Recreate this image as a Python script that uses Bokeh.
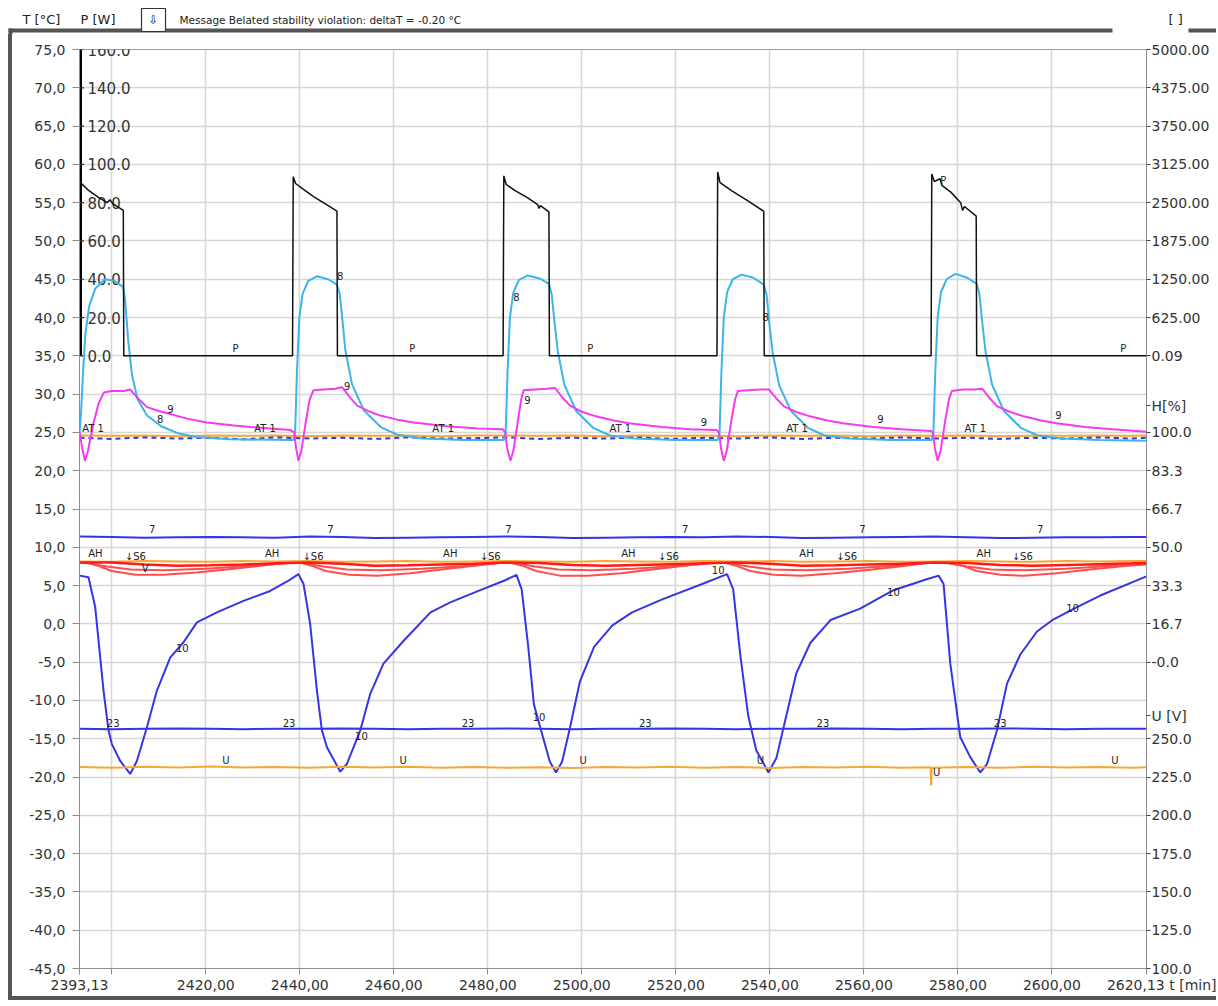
from bokeh.plotting import figure
from bokeh.layouts import column
from bokeh.models import Range1d, LinearAxis, FixedTicker, AllLabels
from bokeh.core.properties import value
from bokeh.embed import file_html
from bokeh.resources import INLINE

FONT = "DejaVu Sans"
NB = "\u00a0"

# ---------------- axis ticks / labels ----------------
t_ticks = [75, 70, 65, 60, 55, 50, 45, 40, 35, 30, 25, 20, 15, 10, 5, 0, -5, -10, -15, -20, -25, -30, -35, -40, -45]
t_labels = ["75,0", "70,0", "65,0", "60,0", "55,0", "50,0", "45,0", "40,0", "35,0", "30,0", "25,0", "20,0",
            "15,0", "10,0", "5,0", "0,0", "-5,0", "-10,0", "-15,0", "-20,0", "-25,0", "-30,0", "-35,0", "-40,0", "-45,0"]
p_ticks = [0, 20, 40, 60, 80, 100, 120, 140, 160]
p_labels = ["0.0", "20.0", "40.0", "60.0", "80.0", "100.0", "120.0", "140.0", "160.0"]
r_ticks = [75, 70, 65, 60, 55, 50, 45, 40, 35, 28.5, 25, 20, 15, 10, 5, 0, -5, -12, -15, -20, -25, -30, -35, -40, -45]
r_labels = ["5000.00", "4375.00", "3750.00", "3125.00", "2500.00", "1875.00", "1250.00", "625.00", "0.09",
            "H[%]", "100.0", "83.3", "66.7", "50.0", "33.3", "16.7", "-0.0",
            "U [V]", "250.0", "225.0", "200.0", "175.0", "150.0", "125.0", "100.0"]
x_ticks = [2393.13, 2400, 2420, 2440, 2460, 2480, 2500, 2520, 2540, 2560, 2580, 2600, 2620.13]
x_labels = ["2393,13", "", "2420,00", "2440,00", "2460,00", "2480,00", "2500,00", "2520,00",
            "2540,00", "2560,00", "2580,00", "2600,00", NB * 7 + "2620,13 t [min]"]

# ---------------- series ----------------
# P [W] (black)
p_points = [(2393.13, 91), (2395.0, 86.5), (2397.0, 83), (2399.0, 80), (2399.6, 81.5), (2400.2, 79.5),
            (2402.45, 76), (2402.55, 0), (2438.45, 0), (2438.52, 46), (2438.6, 93.5), (2439.1, 90),
            (2441.0, 86.5), (2443.0, 83), (2445.0, 80), (2447.9, 75.6), (2448.0, 0), (2483.25, 0),
            (2483.32, 47), (2483.4, 94), (2483.9, 89.5), (2486.0, 86), (2488.5, 82.5), (2490.6, 79),
            (2490.9, 77), (2491.2, 78.5), (2493.0, 75.2), (2493.1, 0), (2528.75, 0), (2528.82, 48),
            (2528.9, 96), (2529.4, 90.5), (2532.0, 86), (2535.0, 81.5), (2538.7, 75.5), (2538.8, 0),
            (2574.3, 0), (2574.38, 48), (2574.45, 95), (2575.0, 91), (2576.2, 92.5), (2576.6, 89),
            (2578.5, 85.5), (2580.6, 80), (2581.0, 76), (2581.4, 78), (2583.9, 73), (2584.0, 0), (2620.13, 0)]

# sensor 8 (cyan) [degC]
s8_points = [(2393.13, 24.6), (2393.5, 28), (2393.9, 33), (2394.4, 38), (2395.2, 41.5), (2396.5, 43.8),
             (2398.5, 45.0), (2400.5, 44.8), (2402.4, 44.0), (2402.8, 42.5), (2403.5, 37), (2404.3, 32.5),
             (2405.5, 29.3), (2407.5, 27.2), (2410.5, 25.8), (2414, 24.9), (2418, 24.4), (2425, 24.1),
             (2438.6, 24.0),
             (2439.0, 25), (2439.4, 33), (2439.9, 40), (2440.6, 43.1), (2441.8, 44.8), (2443.7, 45.4),
             (2446, 45.0), (2447.9, 44.3), (2448.5, 43.1), (2449.1, 39.5), (2449.7, 35.7), (2451.1, 31.3),
             (2453.6, 27.9), (2457.2, 25.7), (2460.7, 24.7), (2466, 24.2), (2475, 24.0), (2483.4, 24.0),
             (2483.8, 25), (2484.2, 33), (2484.7, 40), (2485.4, 43.2), (2486.6, 44.9), (2488.5, 45.5),
             (2491, 45.1), (2493.0, 44.4), (2493.6, 43.0), (2494.2, 39.3), (2494.9, 35.5), (2496.3, 31.2),
             (2498.8, 27.8), (2502.4, 25.6), (2506, 24.6), (2511, 24.2), (2520, 24.0), (2528.9, 24.0),
             (2529.3, 25), (2529.7, 33), (2530.2, 40), (2530.9, 43.3), (2532.1, 45.0), (2534, 45.6),
             (2536.5, 45.2), (2538.7, 44.3), (2539.3, 43.0), (2539.9, 39.2), (2540.6, 35.4), (2542.0, 31.1),
             (2544.5, 27.8), (2548.1, 25.6), (2551.6, 24.6), (2557, 24.2), (2566, 24.0), (2574.4, 24.0),
             (2574.8, 25), (2575.2, 33), (2575.7, 40), (2576.4, 43.3), (2577.6, 45.0), (2579.5, 45.7),
             (2582, 45.2), (2584.0, 44.4), (2584.6, 43.0), (2585.2, 39.3), (2585.9, 35.5), (2587.3, 31.2),
             (2589.8, 27.8), (2593.4, 25.6), (2597, 24.6), (2602, 24.2), (2610, 24.0), (2620.13, 23.9)]

# sensor 9 (magenta) [degC]
s9_points = [(2393.13, 25.0), (2393.7, 23.0), (2394.3, 21.3), (2394.9, 22.5), (2396.1, 26.2), (2397.2, 28.8),
             (2398.3, 30.2), (2400, 30.4), (2402.5, 30.4), (2403.9, 30.6), (2405.5, 29.5), (2407.5, 28.3),
             (2410, 27.8), (2412.4, 27.4), (2416, 26.8), (2420.2, 26.3), (2426, 25.9), (2431.6, 25.6),
             (2438.0, 25.3),
             (2438.8, 25.0), (2439.2, 23.0), (2439.7, 21.3), (2440.3, 22.5), (2441.3, 26.5), (2442.1, 29.3),
             (2442.9, 30.5), (2445, 30.6), (2447.5, 30.7), (2449.0, 30.9), (2450.5, 29.7), (2452.2, 28.5),
             (2454.5, 27.8), (2457.1, 27.2), (2460.5, 26.7), (2464.2, 26.3), (2471.3, 25.8), (2478, 25.5),
             (2483.2, 25.4),
             (2483.7, 25.0), (2484.1, 23.0), (2484.8, 21.3), (2485.4, 22.5), (2486.4, 26.5), (2487.1, 29.3),
             (2487.6, 30.5), (2490, 30.6), (2492.5, 30.7), (2494.3, 30.8), (2495.8, 29.6), (2497.5, 28.5),
             (2500, 27.7), (2503, 27.1), (2506.5, 26.6), (2510, 26.2), (2517, 25.7), (2523, 25.4),
             (2528.7, 25.3),
             (2529.2, 25.0), (2529.6, 23.0), (2530.2, 21.3), (2530.8, 22.5), (2531.8, 26.5), (2532.6, 29.3),
             (2533.2, 30.4), (2535.5, 30.5), (2538, 30.6), (2539.8, 30.6), (2541.3, 29.5), (2543, 28.4),
             (2545.5, 27.7), (2548.5, 27.1), (2552, 26.6), (2555.5, 26.2), (2562, 25.7), (2568, 25.4),
             (2574.2, 25.2),
             (2574.7, 25.0), (2575.1, 23.0), (2575.7, 21.3), (2576.3, 22.5), (2577.3, 26.5), (2578.1, 29.3),
             (2578.7, 30.4), (2581, 30.6), (2583.5, 30.6), (2585.2, 30.7), (2586.7, 29.5), (2588.4, 28.4),
             (2591, 27.7), (2594, 27.1), (2597.5, 26.6), (2601, 26.2), (2607, 25.7), (2613, 25.4),
             (2620.13, 25.1)]

# sensor 10 (blue) [degC]
s10_points = [(2393.13, 6.3), (2395.05, 6.1), (2396.47, 2.2), (2398.24, -8.7), (2399.3, -13.9), (2400.02, -15.7),
              (2401.79, -17.9), (2403.92, -19.6), (2405.34, -17.9), (2407.47, -13.5), (2409.6, -8.7),
              (2412.43, -4.4), (2415.26, -2.4), (2418.11, 0.2), (2422.36, 1.5), (2428.02, 3.0), (2433.7, 4.3),
              (2437.5, 5.6), (2439.72, 6.5), (2440.79, 5.2), (2442.2, 0.0), (2443.64, -8.7), (2444.7, -13.9),
              (2445.77, -16.1), (2448.6, -19.3), (2450.0, -18.3), (2452.87, -13.9), (2455.0, -9.1),
              (2457.8, -5.2), (2462.1, -2.2), (2467.8, 1.5), (2472.0, 2.8), (2478.4, 4.4), (2483.7, 5.7),
              (2486.1, 6.4), (2487.2, 4.5), (2488.6, -3.0), (2489.8, -10.5), (2491.6, -14.5), (2493.2, -18.0),
              (2494.5, -19.4), (2495.8, -18.0), (2497.5, -13.5), (2499.6, -7.5), (2502.6, -3.0),
              (2506.5, -0.2), (2510.7, 1.5), (2517.1, 3.2), (2525.6, 5.2), (2530.9, 6.5), (2532.2, 4.5),
              (2533.7, -4.0), (2535.4, -12.0), (2537.1, -16.5), (2539.7, -19.4), (2541.4, -17.5),
              (2543.5, -12.0), (2545.6, -6.5), (2548.6, -2.5), (2552.9, 0.5), (2559.2, 2.0), (2566.3, 4.4),
              (2573.2, 5.8), (2575.9, 6.3), (2576.96, 5.2), (2578.39, -5.2), (2580.51, -14.8),
              (2582.64, -17.4), (2584.77, -19.4), (2586.19, -18.3), (2588.32, -13.9), (2590.45, -7.8),
              (2593.28, -4.0), (2596.83, -1.0), (2600.36, 0.6), (2605.34, 2.2), (2610.3, 3.7), (2620.13, 6.2)]

# slowly varying channels, sampled at these times
flat_t = [2393.13, 2400, 2407, 2414, 2421, 2428, 2435, 2442, 2449, 2456, 2463, 2470, 2477, 2484, 2491, 2498,
          2505, 2512, 2519, 2526, 2533, 2540, 2547, 2554, 2561, 2568, 2575, 2582, 2589, 2596, 2603, 2610,
          2617, 2620.13]
at1_orange = [24.6, 24.55, 24.6, 24.5, 24.6, 24.55, 24.6, 24.5, 24.6, 24.55, 24.6, 24.5, 24.6, 24.6, 24.55,
              24.6, 24.5, 24.6, 24.55, 24.6, 24.5, 24.6, 24.55, 24.6, 24.5, 24.6, 24.55, 24.6, 24.5, 24.6,
              24.55, 24.6, 24.55, 24.6]
at1_blue = [24.3, 24.15, 24.35, 24.2, 24.3, 24.1, 24.35, 24.2, 24.3, 24.15, 24.35, 24.2, 24.25, 24.35, 24.15,
            24.3, 24.2, 24.35, 24.15, 24.3, 24.2, 24.35, 24.15, 24.3, 24.2, 24.35, 24.2, 24.3, 24.15, 24.3,
            24.2, 24.35, 24.2, 24.3]
s7 = [11.4, 11.35, 11.25, 11.3, 11.35, 11.3, 11.25, 11.4, 11.35, 11.2, 11.25, 11.3, 11.35, 11.4, 11.35, 11.2,
      11.25, 11.3, 11.35, 11.3, 11.4, 11.35, 11.2, 11.25, 11.3, 11.35, 11.4, 11.3, 11.2, 11.25, 11.3, 11.3,
      11.35, 11.35]
ah_orange = [8.15, 8.1, 8.2, 8.15, 8.1, 8.2, 8.15, 8.2, 8.1, 8.15, 8.2, 8.1, 8.15, 8.2, 8.15, 8.1, 8.2, 8.15,
             8.1, 8.2, 8.15, 8.2, 8.1, 8.15, 8.2, 8.1, 8.15, 8.2, 8.15, 8.1, 8.2, 8.15, 8.2, 8.2]
s5_red = [8.0, 8.0, 7.75, 7.6, 7.65, 7.75, 7.9, 8.0, 7.85, 7.6, 7.65, 7.75, 7.85, 8.0, 7.95, 7.7, 7.6, 7.7,
          7.8, 7.9, 8.0, 7.85, 7.6, 7.65, 7.75, 7.85, 8.0, 7.95, 7.7, 7.6, 7.7, 7.8, 7.9, 7.95]
s23 = [-13.7, -13.75, -13.7, -13.65, -13.7, -13.75, -13.7, -13.7, -13.65, -13.7, -13.75, -13.7, -13.7,
       -13.65, -13.7, -13.75, -13.7, -13.7, -13.65, -13.7, -13.75, -13.7, -13.7, -13.65, -13.7, -13.75,
       -13.7, -13.7, -13.65, -13.7, -13.75, -13.7, -13.7, -13.7]

# V (second red channel) and S6 (third red channel) [degC]
v_red_points = [(2393.13, 8.0), (2395, 7.9), (2399, 7.5), (2404, 7.1), (2411, 7.0), (2420, 7.2), (2430, 7.6),
                (2438.5, 8.0), (2441, 7.9), (2445, 7.5), (2450, 7.1), (2457, 7.0), (2466, 7.2), (2476, 7.6),
                (2483.3, 8.0), (2486, 7.9), (2490, 7.5), (2495, 7.1), (2502, 7.0), (2511, 7.2), (2521, 7.6),
                (2528.8, 8.0), (2531.5, 7.9), (2535.5, 7.5), (2540.5, 7.1), (2547.5, 7.0), (2556.5, 7.2),
                (2566.5, 7.6), (2574.4, 8.0), (2578, 7.9), (2582, 7.5), (2587, 7.1), (2594, 7.0),
                (2603, 7.2), (2613, 7.6), (2620.13, 7.8)]
s6_red_points = [(2393.13, 8.0), (2394.5, 8.0), (2397, 7.6), (2400, 6.9), (2405, 6.4), (2411, 6.4), (2418, 6.7),
                 (2426, 7.2), (2433, 7.7), (2438, 8.0), (2440, 8.0), (2442.5, 7.6), (2445.5, 6.9), (2450.5, 6.4),
                 (2456.5, 6.3), (2463.5, 6.6), (2471.5, 7.2), (2478.5, 7.7), (2483.3, 8.0), (2484.8, 8.0),
                 (2487.3, 7.6), (2490.3, 6.9), (2495.3, 6.3), (2501.3, 6.3), (2508.3, 6.6), (2516.3, 7.2),
                 (2523.3, 7.7), (2528.8, 8.0), (2530.3, 8.0), (2532.8, 7.6), (2535.8, 6.9), (2540.8, 6.4),
                 (2546.8, 6.3), (2553.8, 6.6), (2561.8, 7.1), (2568.8, 7.6), (2574.3, 8.0), (2577.5, 8.0),
                 (2581, 7.6), (2584, 6.9), (2589, 6.4), (2594, 6.3), (2601, 6.6), (2608, 7.1), (2614.5, 7.5),
                 (2620.13, 7.8)]

# U [V] (orange)
u_points = [(2393.13, 231.5), (2400, 231.0), (2407, 231.8), (2414, 231.3), (2421, 231.9), (2428, 231.2),
            (2435, 231.6), (2442, 231.0), (2449, 231.7), (2456, 231.3), (2463, 231.8), (2470, 231.1),
            (2477, 231.5), (2484, 231.0), (2491, 231.4), (2498, 230.9), (2505, 231.6), (2512, 231.2),
            (2519, 231.7), (2526, 231.0), (2533, 231.5), (2540, 230.9), (2547, 231.6), (2554, 231.2),
            (2561, 231.7), (2568, 231.1), (2574.2, 231.4), (2574.3, 219.5), (2574.45, 231.0), (2582, 231.6),
            (2589, 231.1), (2596, 231.7), (2603, 231.2), (2610, 231.6), (2617, 231.0), (2620.13, 231.4)]

# curve markers (text, time, degC)
mark_text = (["P"] * 5 + ["AT 1"] * 6 + ["8"] * 4 + ["9"] * 6 + ["7"] * 6 + ["AH"] * 6 + ["\u2193S6"] * 6
             + ["V"] + ["10"] * 6 + ["23"] * 6 + ["U"] * 6)
mark_t = ([2426.3, 2463.9, 2501.8, 2615.2, 2576.9]
          + [2396.0, 2432.6, 2470.5, 2508.2, 2545.8, 2583.7]
          + [2410.3, 2448.6, 2486.1, 2539.1]
          + [2412.5, 2450.1, 2488.4, 2526.0, 2563.5, 2601.4]
          + [2408.6, 2446.5, 2484.4, 2522.0, 2559.7, 2597.5]
          + [2396.5, 2434.1, 2472.0, 2509.9, 2547.8, 2585.5]
          + [2405.0, 2442.8, 2480.5, 2518.4, 2556.3, 2593.7]
          + [2407.1]
          + [2415.0, 2453.1, 2490.9, 2529.0, 2566.3, 2604.4]
          + [2400.3, 2437.7, 2475.8, 2513.5, 2551.3, 2589.0]
          + [2424.3, 2462.0, 2500.3, 2538.0, 2575.5, 2613.4])
mark_T = ([35.9, 35.9, 35.9, 35.9, 57.9]
          + [25.5, 25.5, 25.5, 25.5, 25.5, 25.5]
          + [26.8, 45.4, 42.7, 40.1]
          + [28.1, 31.0, 29.2, 26.3, 26.8, 27.3]
          + [12.45, 12.45, 12.45, 12.45, 12.45, 12.45]
          + [9.2, 9.2, 9.2, 9.2, 9.2, 9.2]
          + [8.8, 8.8, 8.8, 8.8, 8.8, 8.8]
          + [7.2]
          + [-3.2, -14.7, -12.1, 7.0, 4.2, 2.1]
          + [-12.9, -12.9, -12.9, -12.9, -12.9, -12.9]
          + [-17.8, -17.8, -17.8, -17.8, -19.4, -17.8])

# header texts
header_text = ["T [\u00b0C]", "P [W]", "Message  Belated stability violation: deltaT = -0.20 \u00b0C", "[ ]"]


def split(points):
    return [a for a, _ in points], [b for _, b in points]


def no_frame_align(fig):
    if "frame_align" in fig.properties():
        fig.frame_align = False


W = 1216
HEAD_H = 34
DARK = "#555555"
TXT = "#333333"
AX = "#8c8c8c"

# ---------------- header strip ----------------
h = figure(width=W, height=HEAD_H, x_range=Range1d(0, W), y_range=Range1d(HEAD_H, 0),
           x_axis_type=None, y_axis_type=None, output_backend="svg", toolbar_location=None,
           min_border=0, min_border_left=0, min_border_right=0, min_border_top=0, min_border_bottom=0,
           background_fill_color="white", border_fill_color="white")
no_frame_align(h)
h.outline_line_color = None
h.grid.visible = False
h.quad(left=[8, 1188, 8], right=[1112, W, 12], top=[28, 28, 28], bottom=[32, 32, HEAD_H],
       fill_color=DARK, line_color=None)
h.quad(left=[141], right=[165], top=[8], bottom=[31], fill_color="white", line_color="#333333", line_width=1.2)
h.text([153], [19.5], text=["\u21e9"], text_align="center", text_baseline="middle",
       text_font=value(FONT), text_font_size="12px", text_color="#222222")
h.text([22, 80], [19, 19], text=header_text[:2], text_align="left", text_baseline="middle",
       text_font=value(FONT), text_font_size="13px", text_color="#222222")
h.text([179], [19], text=[header_text[2]], text_align="left", text_baseline="middle",
       text_font=value(FONT), text_font_size="10.5px", text_color="#222222")
h.text([1168], [19], text=[header_text[3]], text_align="left", text_baseline="middle",
       text_font=value(FONT), text_font_size="13px", text_color="#222222")

# ---------------- main figure ----------------
p = figure(width=W, height=970, x_range=Range1d(x_ticks[0], x_ticks[-1]), y_range=Range1d(-45, 75),
           output_backend="svg", toolbar_location=None,
           min_border_left=79, min_border_right=70, min_border_top=15, min_border_bottom=36,
           background_fill_color="white", border_fill_color=None)
no_frame_align(p)
p.styles = {"background": ("linear-gradient(#555555, #555555) 8px 0px / 4px 966px no-repeat, "
                           "linear-gradient(#555555, #555555) 8px 962px / 1208px 4px no-repeat, #ffffff")}
p.extra_y_ranges = {"P": Range1d(-320, 160), "U": Range1d(100, 700)}
p.outline_line_color = "#9c9c9c"
p.outline_line_width = 1

ly = p.yaxis[0]
ly.ticker = FixedTicker(ticks=t_ticks)
ly.major_label_overrides = dict(zip(t_ticks, t_labels))
ly.minor_tick_line_color = None
ly.major_tick_out = 7
ly.major_tick_in = 0
ly.major_label_standoff = 7
ly.axis_line_color = AX
ly.major_tick_line_color = AX
ly.major_label_text_font = FONT
ly.major_label_text_font_size = "14px"
ly.major_label_text_color = TXT

bx = p.xaxis[0]
bx.ticker = FixedTicker(ticks=x_ticks)
bx.major_label_overrides = dict(zip(x_ticks, x_labels))
bx.major_label_policy = AllLabels()
bx.minor_tick_line_color = None
bx.major_tick_out = 6
bx.major_tick_in = 0
bx.major_label_standoff = 2
bx.axis_line_color = AX
bx.major_tick_line_color = AX
bx.major_label_text_font = FONT
bx.major_label_text_font_size = "14px"
bx.major_label_text_color = TXT

ry = LinearAxis(ticker=FixedTicker(ticks=r_ticks), major_label_overrides=dict(zip(r_ticks, r_labels)))
ry.major_label_policy = AllLabels()
ry.minor_tick_line_color = None
ry.major_tick_out = 4
ry.major_tick_in = 0
ry.major_label_standoff = 1
ry.axis_line_color = AX
ry.major_tick_line_color = "#444444"
ry.major_label_text_font = FONT
ry.major_label_text_font_size = "14px"
ry.major_label_text_color = TXT
p.add_layout(ry, "right")

p.xgrid.ticker = FixedTicker(ticks=x_ticks)
p.ygrid.ticker = FixedTicker(ticks=t_ticks)
for g in (p.xgrid[0], p.ygrid[0]):
    g.grid_line_color = "#d7d7d7"
    g.grid_line_width = 1.6

# P axis drawn inside the frame
p.line([x_ticks[0], x_ticks[0]], [p_ticks[0], p_ticks[-1]], y_range_name="P", line_color="black", line_width=5)
p.scatter([x_ticks[0]] * len(p_ticks), p_ticks, y_range_name="P", marker="dash", size=9,
          line_color="#333333", line_width=1.2)
p.text([x_ticks[0]] * len(p_ticks), p_ticks, text=p_labels, y_range_name="P", x_offset=8,
       text_align="left", text_baseline="middle", text_font=value(FONT), text_font_size="15px",
       text_color=TXT)

ORANGE = "#f5a834"
BLUE = "#3535e6"
CYAN = "#3cb5ea"
MAGENTA = "#f23cf2"
RED = "#ff1a1a"
RED2 = "#ff4d4d"

p.line(flat_t, at1_orange, line_color=ORANGE, line_width=2)
p.line(flat_t, at1_blue, line_color=BLUE, line_width=2, line_dash="5 4")

x, y = split(s8_points)
p.line(x, y, line_color=CYAN, line_width=2)
x, y = split(s9_points)
p.line(x, y, line_color=MAGENTA, line_width=2)

p.line(flat_t, s7, line_color=BLUE, line_width=2)

x, y = split(s6_red_points)
p.line(x, y, line_color=RED2, line_width=2)
x, y = split(v_red_points)
p.line(x, y, line_color=RED2, line_width=2)
p.line(flat_t, ah_orange, line_color=ORANGE, line_width=2)
p.line(flat_t, s5_red, line_color=RED, line_width=2.5)

x, y = split(s10_points)
p.line(x, y, line_color=BLUE, line_width=2)
p.line(flat_t, s23, line_color=BLUE, line_width=2)

x, y = split(u_points)
p.line(x, y, y_range_name="U", line_color=ORANGE, line_width=2)

x, y = split(p_points)
p.line(x, y, y_range_name="P", line_color="#111111", line_width=1.5)

p.text(mark_t, mark_T, text=mark_text, text_align="center", text_baseline="middle",
       text_font=value(FONT), text_font_size="10px", text_color="#222222")

layout = column(h, p, spacing=0)
open("out.html", "w").write(file_html(layout, INLINE))
